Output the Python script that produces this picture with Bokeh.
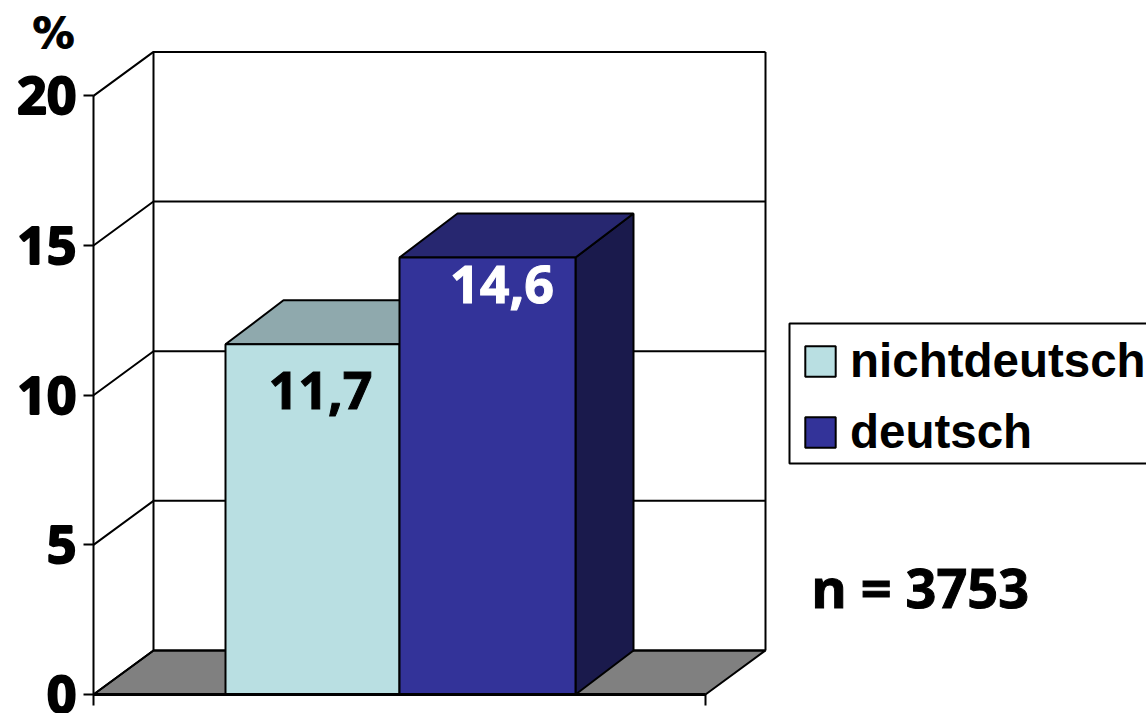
from bokeh.embed import file_html
from bokeh.resources import INLINE
from bokeh.plotting import figure
from bokeh.models import Range1d, Legend, LegendItem, FixedTicker
from bokeh.core.properties import value

categories = ["nichtdeutsch", "deutsch"]
values = [11.7, 14.6]
y_ticks = [0, 5, 10, 15, 20]
sample_note = "n = 3753"
unit_label = "%"

front_colors = ["#B9DFE2", "#333399"]
top_colors = ["#8FA9AD", "#272770"]
side_colors = ["#8FA9AD", "#1A1A4C"]
label_colors = ["black", "white"]

NUM_FONT = "Noto Sans"
NUM_SIZE = "52px"
LEG_FONT = "Liberation Sans"

# layout: x range is in page-like units, y range in percent
W, H = 1146, 713
Y0_PX = 694
PX_PER_UNIT = 29.93
X0, X1 = 93, 705
DX = 60
DY = 44 / PX_PER_UNIT
BAR_EDGES = [225, 399, 575]
BAR_DX = 58
LABEL_X = [320, 501.5]
LABEL_DROP = [1.54, 0.91]

p = figure(width=W, height=H, output_backend="svg", toolbar_location=None,
           x_range=Range1d(0, W),
           y_range=Range1d(-(H - Y0_PX) / PX_PER_UNIT, Y0_PX / PX_PER_UNIT),
           min_border=0, outline_line_color=None, background_fill_color="white")
p.grid.visible = False

# Y axis
ya = p.yaxis[0]
ya.fixed_location = X0
ya.ticker = FixedTicker(ticks=y_ticks)
ya.bounds = (0, 20)
ya.axis_line_color = "black"
ya.axis_line_width = 2
ya.major_tick_line_color = "black"
ya.major_tick_line_width = 2
ya.major_tick_in = 0
ya.major_tick_out = 10
ya.minor_tick_line_color = None
ya.major_label_standoff = 7
ya.major_label_text_font = NUM_FONT
ya.major_label_text_font_style = "bold"
ya.major_label_text_font_size = NUM_SIZE
ya.major_label_text_color = "black"
ya.major_label_text_outline_color = "black"

# X axis
xa = p.xaxis[0]
xa.fixed_location = 0
xa.ticker = FixedTicker(ticks=[X0, X1])
xa.bounds = (X0, X1)
xa.major_label_text_color = None
xa.major_label_overrides = {X0: " ", X1: " "}
xa.axis_line_color = "black"
xa.axis_line_width = 3
xa.major_tick_line_color = "black"
xa.major_tick_line_width = 2
xa.major_tick_in = 0
xa.major_tick_out = 11
xa.minor_tick_line_color = None

# floor
p.patch([X0, X0 + DX, X1 + DX, X1], [0, DY, DY, 0], fill_color="#808080",
        line_color="black", line_width=2)

# walls and gridlines
for t in y_ticks:
    p.line([X0, X0 + DX, X1 + DX], [t, t + DY, t + DY], line_color="black", line_width=2)
p.line([X0 + DX, X0 + DX], [DY, 20 + DY], line_color="black", line_width=2)
p.line([X1 + DX, X1 + DX], [DY, 20 + DY], line_color="black", line_width=2)

# bars
fronts = []
for i, v in enumerate(values):
    l, r = BAR_EDGES[i], BAR_EDGES[i + 1]
    p.patch([r, r + BAR_DX, r + BAR_DX, r], [0, DY, v + DY, v], fill_color=side_colors[i],
            line_color="black", line_width=2)
    p.patch([l, l + BAR_DX, r + BAR_DX, r], [v, v + DY, v + DY, v], fill_color=top_colors[i],
            line_color="black", line_width=2)
for i, v in enumerate(values):
    l, r = BAR_EDGES[i], BAR_EDGES[i + 1]
    fronts.append(p.quad(left=[l], right=[r], bottom=[0], top=[v], fill_color=front_colors[i],
                         line_color="black", line_width=2))

# data labels
p.text(x=LABEL_X, y=[v - d for v, d in zip(values, LABEL_DROP)],
       text=[f"{v:.1f}".replace(".", ",") for v in values],
       text_color=label_colors, text_outline_color=label_colors,
       text_align="center", text_baseline="middle",
       text_font=value(NUM_FONT), text_font_style="bold", text_font_size=NUM_SIZE)

# notes
p.text(x=[53], y=[22.1], text=[unit_label], text_color="black", text_outline_color="black",
       text_align="center", text_baseline="middle", text_font=value("DejaVu Sans"),
       text_font_style="bold", text_font_size="42px")
p.text(x=[811], y=[3.58], text=[sample_note], text_color="black", text_outline_color="black",
       text_align="left", text_baseline="middle", text_font=value(NUM_FONT),
       text_font_style="bold", text_font_size="54px")

# legend box, running off the right edge as in the reference
p.quad(left=[789], right=[W + 10], bottom=[(Y0_PX - 463) / PX_PER_UNIT],
       top=[(Y0_PX - 323) / PX_PER_UNIT], fill_color="white", line_color="black", line_width=2)

legend = Legend(items=[LegendItem(label=c, renderers=[fronts[i]]) for i, c in enumerate(categories)],
                location=(801, 254), margin=0, padding=0, spacing=16,
                glyph_width=38, glyph_height=38, label_standoff=11,
                label_text_font=LEG_FONT, label_text_font_style="bold",
                label_text_font_size="47.5px", label_text_color="black",
                border_line_color=None, background_fill_alpha=0)
p.add_layout(legend)

open("out.html", "w").write(file_html(p, INLINE))
